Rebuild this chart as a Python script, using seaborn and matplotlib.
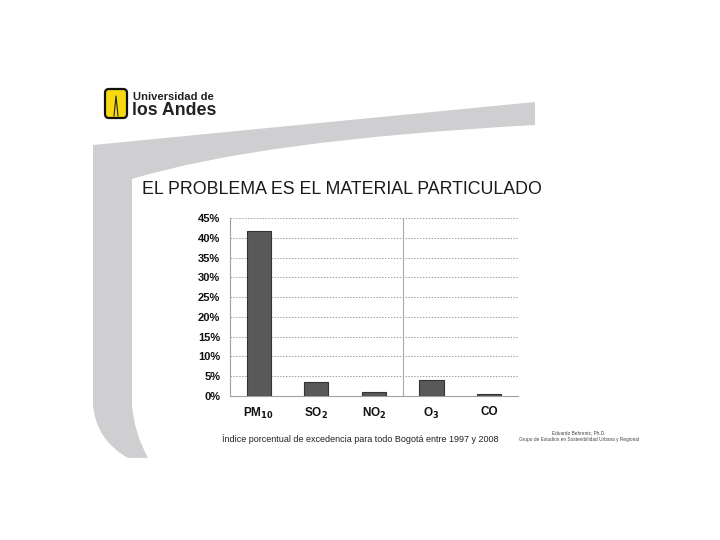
import matplotlib
matplotlib.use("Agg")
import matplotlib.pyplot as plt
import seaborn as sns
import numpy as np
from matplotlib.path import Path
from matplotlib.patches import PathPatch, FancyBboxPatch
from matplotlib.ticker import FuncFormatter

# ---- data ----
categories = [r"PM$_{\mathbf{10}}$", r"SO$_{\mathbf{2}}$", r"NO$_{\mathbf{2}}$",
              r"O$_{\mathbf{3}}$", "CO"]
values = [41.7, 3.5, 1.0, 4.0, 0.6]
yticks = [0, 5, 10, 15, 20, 25, 30, 35, 40, 45]

title = "EL PROBLEMA ES EL MATERIAL PARTICULADO"
caption = "Índice porcentual de excedencia para todo Bogotá entre 1997 y 2008"
credit1 = "Eduardo Behrentz, Ph.D."
credit2 = "Grupo de Estudios en Sostenibilidad Urbana y Regional"

sns.set_style("white")
plt.rcParams["font.family"] = ["Liberation Sans", "DejaVu Sans"]
plt.rcParams["mathtext.fontset"] = "dejavusans"

fig = plt.figure(figsize=(7.2, 5.4), dpi=100)
fig.patch.set_facecolor("white")

# ---- background slide decoration (pixel coords, y down) ----
bg = fig.add_axes([0, 0, 1, 1], zorder=0)
bg.set_xlim(0, 720)
bg.set_ylim(540, 0)
bg.axis("off")

verts = [
    (535, 102),
    (93, 145),
    (93, 405),
    (96, 440), (128, 458),
    (148, 458),
    (134, 432), (132, 405),
    (132, 179),
    (260, 140), (535, 125),
    (535, 102),
]
codes = [Path.MOVETO, Path.LINETO, Path.LINETO,
         Path.CURVE3, Path.CURVE3,
         Path.LINETO,
         Path.CURVE3, Path.CURVE3,
         Path.LINETO,
         Path.CURVE3, Path.CURVE3,
         Path.CLOSEPOLY]
bg.add_patch(PathPatch(Path(verts, codes), facecolor="#cfcfd1", edgecolor="none"))

# logo
bg.add_patch(FancyBboxPatch((105, 89), 22, 29, boxstyle="round,pad=0,rounding_size=4",
                            facecolor="#f6d90f", edgecolor="#111111", linewidth=1.6))
bg.plot([114, 116, 118], [116, 96, 116], color="#222222", lw=0.8)
bg.text(133, 97, "Universidad de", fontsize=8.1, fontweight="bold", color="#222222",
        va="center", ha="left")
bg.text(132, 110.5, "los Andes", fontsize=12.8, fontweight="bold", color="#222222",
        va="center", ha="left")

bg.text(142, 190, title, fontsize=12.8, color="#1a1a1a", va="center", ha="left")
bg.text(222, 439, caption, fontsize=6.45, color="#222222", va="center", ha="left")
bg.text(579, 433, credit1, fontsize=3.45, color="#444444", va="center", ha="center")
bg.text(579, 439, credit2, fontsize=3.45, color="#444444", va="center", ha="center")

# ---- chart ----
ax = fig.add_axes([0.3194, 0.2667, 0.4, 0.3296], zorder=1)
ax.patch.set_alpha(0)
sns.barplot(x=categories, y=values, ax=ax, color="#595959", width=0.42,
            edgecolor="#333333", linewidth=0.8, saturation=1, zorder=3)

ax.set_ylim(0, 45)
ax.set_xlim(-0.5, len(categories) - 0.5)
ax.set_yticks(yticks)
ax.yaxis.set_major_formatter(FuncFormatter(lambda v, p: f"{int(v)}%"))
ax.yaxis.grid(True, linestyle=(0, (1.5, 1.5)), color="#a0a0a0", linewidth=0.7, zorder=0)
ax.xaxis.grid(False)
ax.axvline(2.5, color="#a8a8a8", lw=0.8, zorder=1)

for s in ["top", "right"]:
    ax.spines[s].set_visible(False)
for s in ["left", "bottom"]:
    ax.spines[s].set_color("#a0a0a0")
    ax.spines[s].set_linewidth(0.8)

ax.set_xlabel("")
ax.set_ylabel("")
ax.set_xticks(range(len(categories)))
ax.set_xticklabels(categories)
ax.set_xticks(np.arange(-0.5, len(categories), 1.0), minor=True)
ax.tick_params(axis="x", which="major", length=0, pad=7, labelsize=8.5)
ax.tick_params(axis="x", which="minor", length=4, color="#a0a0a0", width=0.8)
ax.tick_params(axis="y", which="major", length=3, color="#a0a0a0", width=0.8,
               labelsize=8, pad=4)
for lab in ax.get_xticklabels() + ax.get_yticklabels():
    lab.set_fontweight("bold")
    lab.set_color("#111111")

fig.savefig("out.png", dpi=100)
